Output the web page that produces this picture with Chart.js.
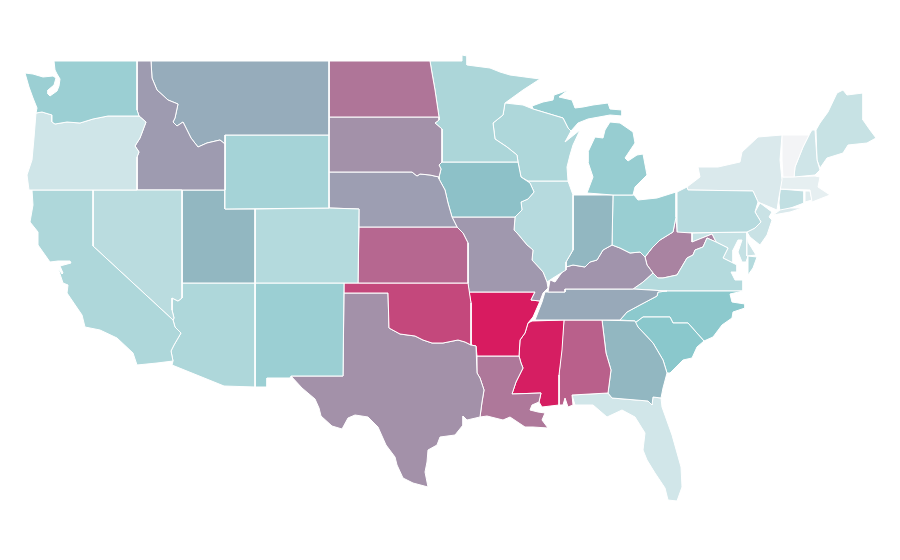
<!DOCTYPE html>
<html>
<head>
<meta charset="utf-8">
<title>US states</title>
<script src="https://cdn.jsdelivr.net/npm/chart.js@4"></script>
<style>
  html, body { margin: 0; padding: 0; background: #fff; }
  #wrap { width: 900px; height: 560px; }
</style>
</head>
<body>
<div id="wrap"><canvas id="map"></canvas></div>
<script>
// state outlines: x, y, x, y ...
const WA = [54,61, 137,61, 137,110, 139,116, 108,116, 93,119, 80,123, 67,122, 55,124, 52,122, 52,115, 42,112, 36,113, 37,108, 33,98, 29,87, 25,73, 33,74, 43,77, 53,76, 56,78, 54,85, 48,90, 48,94, 50,96, 57,91, 59,86, 60,79, 57,74, 55,70];
const OR = [36,113, 42,112, 52,115, 52,122, 55,124, 67,122, 80,123, 93,119, 108,116, 139,116, 146,122, 140,138, 135,146, 139,152, 137,157, 137,190, 29,190, 27,175, 32,160, 34,138];
const CA = [32,190, 93,190, 93,246, 173,320, 175,327, 181,333, 174,345, 171,351, 173,361, 157,363, 137,365, 133,353, 117,338, 100,330, 85,327, 82,315, 67,293, 68,285, 63,283, 58,268, 62,274, 63,273, 60,266, 71,263, 70,261, 58,261, 50,262, 38,245, 38,232, 30,222, 33,205];
const NV = [93,190, 182,190, 182,298, 178,301, 172,298, 172,310, 174,318, 173,320, 93,246];
const ID = [137,61, 151,61, 152,78, 157,90, 168,100, 178,104, 175,118, 173,122, 177,126, 183,122, 191,138, 198,147, 207,143, 220,140, 225,144, 225,190, 137,190, 137,157, 139,152, 135,146, 140,138, 146,122, 139,116, 137,110];
const MT = [151,61, 329,61, 329,135, 225,135, 225,144, 220,140, 207,143, 198,147, 191,138, 183,122, 177,126, 173,122, 175,118, 178,104, 168,100, 157,90, 152,78];
const WY = [225,135, 329,135, 329,208, 225,209];
const UT = [182,190, 225,190, 225,209, 255,209, 255,283, 182,283];
const CO = [255,209, 329,208, 359,209, 358,283, 255,283];
const AZ = [182,283, 255,283, 255,387, 224,386, 172,365, 173,361, 171,351, 174,345, 181,333, 175,327, 173,320, 174,318, 172,310, 172,298, 178,301, 182,298];
const NM = [255,283, 344,283, 343,376, 291,376, 290,378, 267,378, 267,387, 255,387];
const ND = [329,61, 430,61, 432,73, 435,90, 439,117, 329,117];
const SD = [329,117, 439,117, 439,120, 435,123, 442,129, 442,162, 439,165, 441,169, 439,177, 430,175, 420,174, 417,176, 412,172, 328,172];
const NE = [328,172, 412,172, 417,176, 420,174, 430,175, 439,177, 439,179, 445,190, 448,203, 452,217, 457,227, 359,227, 359,209, 329,208];
const KS = [359,227, 457,227, 463,233, 468,243, 468,283, 358,283];
const OK = [344,283, 468,283, 471,303, 471,345, 465,342, 458,340, 443,343, 432,343, 423,340, 415,336, 400,334, 389,328, 388,293, 344,293];
const TX = [344,293, 388,293, 389,328, 400,334, 415,336, 423,340, 432,343, 443,343, 458,340, 465,342, 471,345, 476,346, 477,373, 480,378, 484,390, 482,402, 480,417, 467,420, 463,416, 463,425, 455,435, 440,437, 437,445, 428,450, 427,462, 425,472, 428,487, 413,483, 403,478, 397,465, 395,457, 386,445, 378,427, 368,417, 355,415, 348,418, 342,429, 332,426, 321,416, 319,408, 315,399, 302,388, 291,376, 343,376];
const MN = [430,61, 462,61, 462,55, 467,56, 467,65, 490,68, 500,72, 510,75, 540,79, 523,90, 505,103, 503,115, 493,123, 495,139, 507,147, 517,155, 518,162, 442,162, 442,129, 435,123, 439,120, 439,117, 435,90, 432,73];
const IA = [439,162, 518,162, 521,177, 530,183, 534,192, 528,199, 521,202, 522,210, 515,217, 452,217, 448,203, 445,190, 439,179, 439,177, 441,169, 439,165];
const MO = [452,217, 512,217, 515,217, 514,230, 517,233, 527,245, 533,250, 532,260, 543,272, 547,282, 548,288, 543,293, 540,301, 531,300, 535,292, 469,292, 468,283, 468,243, 463,233, 457,227];
const AR = [469,292, 535,292, 531,300, 540,301, 533,317, 528,323, 525,333, 520,340, 519,356, 477,356, 476,346, 471,345, 471,303];
const LA = [477,356, 519,356, 521,363, 523,368, 516,382, 512,394, 541,393, 539,402, 532,405, 530,410, 538,412, 545,413, 542,420, 548,428, 533,427, 525,427, 510,417, 503,420, 487,416, 480,417, 482,402, 484,390, 480,378, 477,373];
const WI = [505,103, 523,105, 533,109, 563,118, 568,128, 571,131, 565,142, 575,134, 580,130, 573,145, 570,155, 567,167, 568,181, 528,181, 521,177, 518,162, 517,155, 507,147, 495,139, 493,123, 503,115];
const IL = [528,181, 568,181, 573,195, 573,243, 573,250, 566,262, 566,270, 553,278, 547,282, 543,272, 532,260, 533,250, 527,245, 517,233, 514,230, 515,217, 522,210, 521,202, 528,199, 534,192, 530,183];
const MI = [587,193, 613,195, 633,195, 635,187, 647,175, 643,154, 637,155, 628,161, 625,158, 635,143, 633,132, 620,123, 610,122, 605,130, 603,138, 595,137, 588,152, 588,162, 593,177];
const MI_UP = [532,106, 543,102, 553,100, 554,95, 560,93, 568,90, 559,97, 572,100, 575,108, 583,107, 593,105, 608,103, 610,109, 622,110, 622,116, 610,115, 588,119, 578,123, 571,131, 568,128, 563,118, 533,109];
const IN = [573,195, 613,195, 612,245, 603,250, 597,260, 590,262, 585,267, 573,265, 566,267, 566,262, 573,250, 573,243];
const OH = [613,195, 634,195, 638,200, 657,198, 676,192, 676,217, 673,232, 660,240, 652,248, 645,257, 640,252, 630,253, 620,248, 612,245];
const KY = [548,292, 550,280, 555,282, 560,275, 566,267, 573,265, 585,267, 590,262, 597,260, 603,250, 612,245, 620,248, 630,253, 640,252, 645,257, 647,265, 653,273, 643,282, 633,289, 565,289, 565,292];
const TN = [545,292, 565,292, 565,289, 633,289, 667,291, 658,292, 657,296, 640,305, 627,312, 620,320, 535,320, 542,302];
const MS = [532,321, 564,320, 562,350, 559,375, 559,405, 542,407, 539,402, 541,393, 512,394, 516,382, 523,368, 521,363, 519,356, 520,340, 525,333, 528,323];
const AL = [564,320, 602,320, 606,353, 611,370, 608,393, 572,395, 573,405, 568,407, 565,398, 563,405, 559,405, 559,375];
const GA = [602,320, 635,321, 638,327, 653,343, 663,360, 667,373, 663,388, 661,398, 653,397, 652,405, 648,401, 612,398, 608,393, 611,370, 606,353];
const FL = [572,395, 608,393, 612,398, 648,401, 652,405, 653,397, 661,398, 662,407, 672,435, 681,467, 682,487, 677,501, 668,500, 665,488, 655,473, 647,460, 643,450, 645,433, 635,417, 622,410, 607,417, 593,405, 575,405];
const SC = [635,323, 643,317, 670,317, 673,323, 688,323, 704,341, 697,347, 692,358, 683,360, 670,373, 667,373, 663,360, 653,343, 638,327];
const NC = [620,320, 627,312, 640,305, 657,296, 658,292, 667,291, 743,291, 730,294, 732,302, 745,304, 745,308, 733,312, 732,318, 722,325, 713,337, 704,341, 688,323, 673,323, 670,317, 643,317, 635,323, 635,321];
const VA = [633,289, 643,282, 653,273, 658,278, 663,278, 677,275, 687,258, 693,255, 695,250, 703,247, 707,238, 716,242, 728,248, 723,258, 737,265, 737,272, 731,272, 735,280, 743,280, 743,291, 667,291];
const VA_SHORE = [748,256, 757,257, 753,268, 748,275];
const WV = [645,257, 652,248, 660,240, 673,232, 676,217, 677,232, 692,233, 692,242, 707,236, 712,234, 716,242, 707,238, 703,247, 695,250, 693,255, 687,258, 677,275, 663,278, 658,278, 653,273, 647,265];
const PA = [677,192, 687,187, 688,190, 753,191, 758,202, 755,212, 761,222, 755,228, 747,232, 677,233];
const NY = [782,135, 758,137, 742,152, 740,162, 718,167, 698,167, 700,177, 687,187, 688,190, 753,191, 758,202, 777,210, 779,197, 782,180, 780,160];
const NY_LONG = [773,215, 780,210, 790,208, 802,208, 790,212];
const VT = [782,135, 809,135, 803,147, 795,167, 794,177, 783,177, 782,160];
const NH = [809,135, 812,130, 815,130, 817,160, 820,170, 815,175, 794,177, 795,167, 803,147];
const ME = [816,130, 820,123, 828,112, 837,93, 843,90, 847,95, 863,93, 863,120, 870,130, 876,138, 867,143, 848,145, 843,153, 827,158, 820,168, 817,160];
const MA = [782,177, 815,176, 820,177, 818,187, 830,195, 812,202, 810,190, 780,189];
const CT = [780,189, 804,191, 804,203, 780,212, 779,203];
const RI = [805,191, 810,191, 812,200, 805,202];
const NJ = [760,203, 772,212, 769,217, 772,220, 767,235, 760,245, 750,237, 747,232, 755,228, 761,222, 755,212];
const DE = [747,233, 748,242, 756,255, 747,256];
const MD = [692,233, 747,232, 747,256, 748,256, 746,262, 742,262, 738,252, 742,240, 738,240, 733,250, 733,263, 723,258, 728,248, 716,242, 712,234, 707,236, 692,242];

const outlines = [WA, OR, CA, NV, ID, MT, WY, UT, CO, AZ, NM, ND, SD, NE, KS, OK, TX, MN, IA, MO, AR, LA, WI, IL, MI, MI_UP, IN, OH, KY, TN, MS, AL, GA, FL, SC, NC, VA, VA_SHORE, WV, PA, NY, NY_LONG, VT, NH, ME, MA, CT, RI, NJ, DE, MD];
const stateNames = ["WA", "OR", "CA", "NV", "ID", "MT", "WY", "UT", "CO", "AZ", "NM", "ND", "SD", "NE", "KS", "OK", "TX", "MN", "IA", "MO", "AR", "LA", "WI", "IL", "MI", "MI", "IN", "OH", "KY", "TN", "MS", "AL", "GA", "FL", "SC", "NC", "VA", "VA", "WV", "PA", "NY", "NY", "VT", "NH", "ME", "MA", "CT", "RI", "NJ", "DE", "MD"];
const stateValues = [42, 17, 33, 27, 63, 58, 37, 55, 30, 33, 42, 74, 66, 62, 78, 87, 66, 34, 52, 64, 100, 73, 33, 29, 44, 44, 55, 43, 65, 59, 99, 80, 55, 16, 50, 49, 30, 30, 70, 29, 12, 12, 0, 17, 21, 6, 24, 9, 20, 19, 22];

// colour ramp: pale grey -> teal -> crimson
const rampLow = [243, 244, 246];
const rampMid = [138, 200, 204];
const rampHigh = [216, 27, 96];

function colorFor(v) {
  let a = v <= 50 ? rampLow : rampMid;
  let b = v <= 50 ? rampMid : rampHigh;
  let t = v <= 50 ? v / 50 : (v - 50) / 50;
  let c = a.map((n, i) => Math.round(n + (b[i] - n) * t));
  return `rgb(${c[0]}, ${c[1]}, ${c[2]})`;
}

function toPoints(flat) {
  let pts = [];
  for (let i = 0; i < flat.length; i += 2) {
    pts.push({ x: flat[i], y: flat[i + 1] });
  }
  pts.push({ x: flat[0], y: flat[1] }); // close the ring
  return pts;
}

new Chart(document.getElementById("map"), {
  type: "scatter",
  data: {
    datasets: outlines.map((o, i) => ({
      label: stateNames[i],
      data: toPoints(o),
      showLine: true,
      fill: "shape",
      tension: 0,
      pointRadius: 0,
      pointHoverRadius: 0,
      borderWidth: 1,
      borderColor: "#ffffff",
      backgroundColor: colorFor(stateValues[i])
    }))
  },
  options: {
    responsive: true,
    maintainAspectRatio: false,
    animation: false,
    layout: { padding: 0 },
    plugins: {
      legend: { display: false },
      tooltip: { enabled: false }
    },
    scales: {
      x: { type: "linear", display: false, min: 0, max: 900 },
      y: { type: "linear", display: false, min: 0, max: 560, reverse: true }
    }
  }
});
</script>
</body>
</html>
